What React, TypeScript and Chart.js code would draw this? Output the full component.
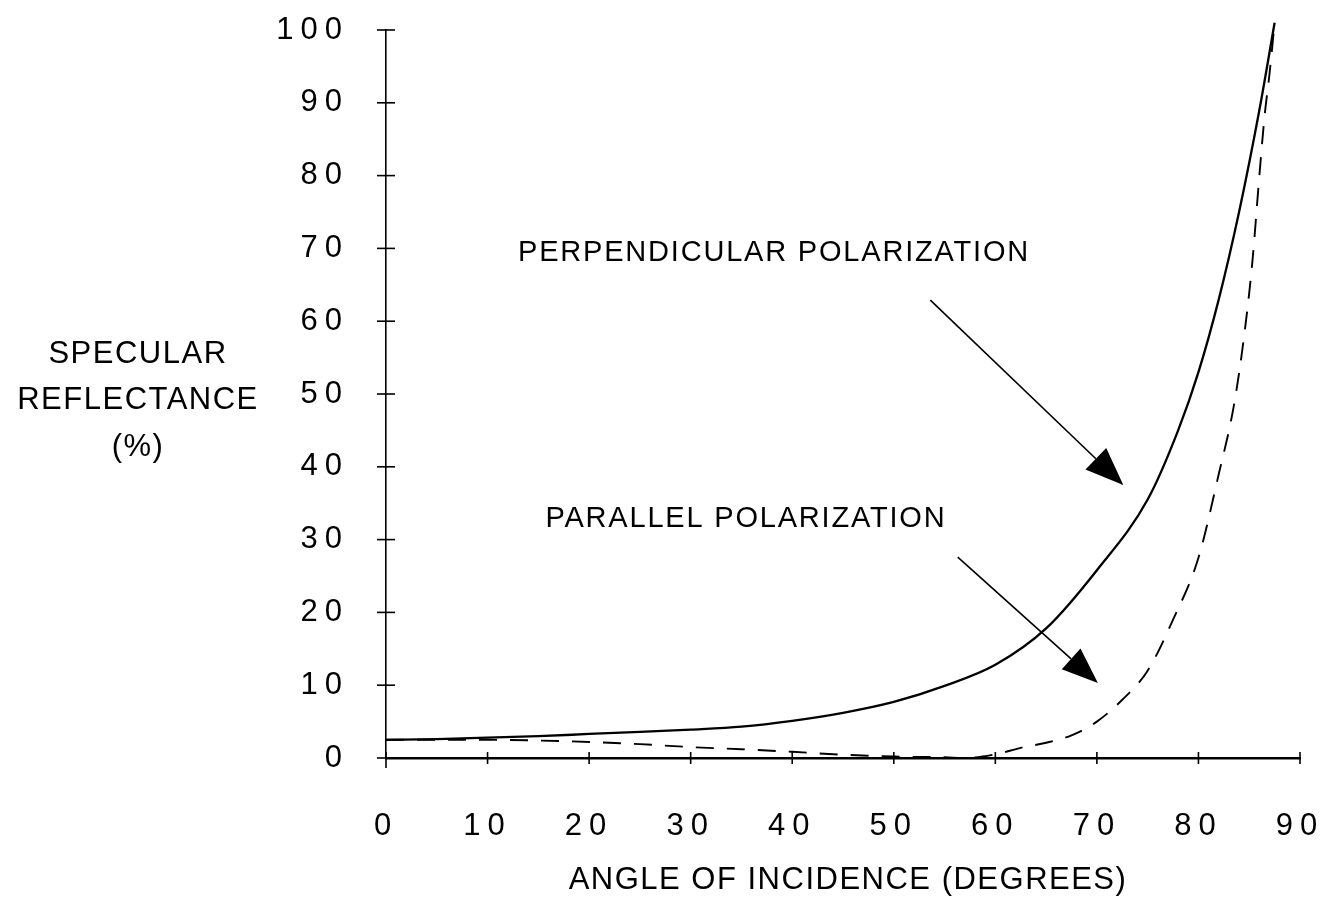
import React, { useEffect, useRef } from "react";
import { Chart, registerables } from "chart.js";

Chart.register(...registerables);

// Angle of incidence (degrees) and specular reflectance (%)
const perpAngles = [0, 5, 10, 15, 20, 25, 30, 35, 40, 45, 50, 55, 60, 65, 70, 75, 78, 80, 82, 84, 86, 87.5];
const perpValues = [2.5, 2.6, 2.8, 3.0, 3.3, 3.6, 3.9, 4.3, 5.1, 6.2, 7.7, 9.9, 12.8, 17.8, 25.8, 35.5, 45, 53, 63, 75, 89, 101];

const paraAngles = [0, 5, 10, 15, 20, 25, 30, 35, 40, 45, 50, 55, 57, 60, 62.5, 65, 67.5, 70, 72.5, 75, 77.5, 80, 82, 83.5, 84.5, 85.3, 86, 86.5, 87, 87.5];
const paraValues = [2.5, 2.5, 2.5, 2.4, 2.2, 1.9, 1.5, 1.2, 0.85, 0.45, 0.2, 0.1, 0, 0.5, 1.4, 2.1, 3.1, 5.0, 8.0, 12, 19, 27.5, 39, 48.5, 58, 68, 80, 88, 94, 101];

const xTicks = [0, 10, 20, 30, 40, 50, 60, 70, 80, 90];
const yTicks = [0, 10, 20, 30, 40, 50, 60, 70, 80, 90, 100];

const yTitleLines = ["SPECULAR", "REFLECTANCE", "(%)"];
const xTitle = "ANGLE OF INCIDENCE (DEGREES)";

// annotations: label text, label anchor (data coords), arrow from/to (data coords)
const perpLabel = "PERPENDICULAR POLARIZATION";
const perpLabelAt = [13.0, 69.4];
const perpArrow = [53.6, 62.9, 72.6, 37.5];
const paraLabel = "PARALLEL POLARIZATION";
const paraLabelAt = [15.7, 32.8];
const paraArrow = [56.3, 27.6, 70.1, 10.3];

const FONT = "'Liberation Sans', Arial, sans-serif";

const zeroPadding = (s: any) => {
  s.paddingTop = 0;
  s.paddingBottom = 0;
  s.paddingLeft = 0;
  s.paddingRight = 0;
};

export default function App() {
  const ref = useRef<HTMLCanvasElement | null>(null);

  useEffect(() => {
    const canvas = ref.current;
    if (!canvas) return;

    const decor = {
      id: "decor",
      beforeDraw(chart: any) {
        (chart.ctx as any).letterSpacing = "7px";
      },
      afterDraw(chart: any) {
        const ctx = chart.ctx as CanvasRenderingContext2D & { letterSpacing: string };
        const xs = chart.scales.x;
        const ys = chart.scales.y;
        const area = chart.chartArea;
        ctx.save();
        ctx.letterSpacing = "0px";
        ctx.strokeStyle = "#000";
        ctx.fillStyle = "#000";

        // y tick marks crossing axis
        ctx.lineWidth = 1.6;
        yTicks.forEach((v) => {
          const y = ys.getPixelForValue(v);
          ctx.beginPath();
          ctx.moveTo(area.left - 9, y);
          ctx.lineTo(area.left + 9, y);
          ctx.stroke();
        });
        // x tick marks crossing axis
        xTicks.forEach((v) => {
          const x = xs.getPixelForValue(v);
          ctx.beginPath();
          ctx.moveTo(x, area.bottom - 6);
          ctx.lineTo(x, area.bottom + (v === 0 ? 10 : 6));
          ctx.stroke();
        });

        // titles
        ctx.letterSpacing = "1.5px";
        ctx.font = `31px ${FONT}`;
        ctx.textAlign = "center";
        ctx.textBaseline = "middle";
        const cx = area.left - 248;
        yTitleLines.forEach((t, i) => {
          ctx.fillText(t, cx, ys.getPixelForValue(55.5) + i * 46.5);
        });
        ctx.fillText(xTitle, (area.left + area.right) / 2 + 5, area.bottom + 122);

        // annotations
        ctx.letterSpacing = "1.8px";
        ctx.font = `29px ${FONT}`;
        ctx.textAlign = "left";
        ctx.fillText(perpLabel, xs.getPixelForValue(perpLabelAt[0]), ys.getPixelForValue(perpLabelAt[1]));
        ctx.fillText(paraLabel, xs.getPixelForValue(paraLabelAt[0]), ys.getPixelForValue(paraLabelAt[1]));

        const arrow = (a: number[], head: number, half: number) => {
          const x1 = xs.getPixelForValue(a[0]);
          const y1 = ys.getPixelForValue(a[1]);
          const x2 = xs.getPixelForValue(a[2]);
          const y2 = ys.getPixelForValue(a[3]);
          const ang = Math.atan2(y2 - y1, x2 - x1);
          const bx = x2 - head * Math.cos(ang);
          const by = y2 - head * Math.sin(ang);
          ctx.lineWidth = 1.6;
          ctx.beginPath();
          ctx.moveTo(x1, y1);
          ctx.lineTo(bx, by);
          ctx.stroke();
          ctx.beginPath();
          ctx.moveTo(x2, y2);
          ctx.lineTo(bx + half * Math.sin(ang), by - half * Math.cos(ang));
          ctx.lineTo(bx - half * Math.sin(ang), by + half * Math.cos(ang));
          ctx.closePath();
          ctx.fill();
        };
        arrow(perpArrow, 38, 15);
        arrow(paraArrow, 36, 14);
        ctx.restore();
      },
    };

    const chart = new Chart(canvas, {
      type: "line",
      data: {
        datasets: [
          {
            label: "Perpendicular polarization",
            data: perpAngles.map((a, i) => ({ x: a, y: perpValues[i] })),
            borderColor: "#000",
            borderWidth: 2.3,
            pointRadius: 0,
            cubicInterpolationMode: "monotone",
            fill: false,
            clip: false as any,
          },
          {
            label: "Parallel polarization",
            data: paraAngles.map((a, i) => ({ x: a, y: paraValues[i] })),
            borderColor: "#000",
            borderWidth: 1.9,
            borderDash: [18, 13],
            pointRadius: 0,
            cubicInterpolationMode: "monotone",
            fill: false,
            clip: false as any,
          },
        ],
      },
      options: {
        animation: false,
        responsive: false,
        layout: { padding: { left: 0, right: 39, top: 30, bottom: 0 } },
        plugins: { legend: { display: false }, tooltip: { enabled: false } },
        scales: {
          x: {
            type: "linear",
            min: 0,
            max: 90,
            afterFit: (s: any) => {
              s.height = 155;
              zeroPadding(s);
            },
            afterBuildTicks: (s: any) => {
              s.ticks = xTicks.map((v) => ({ value: v }));
            },
            ticks: {
              color: "#000",
              font: { family: FONT, size: 31 },
              padding: 50,
              maxRotation: 0,
              autoSkip: false,
              callback: (v: any) => String(v),
            },
            grid: { display: false, drawTicks: false },
            border: { display: true, color: "#000", width: 2.5 },
          },
          y: {
            type: "linear",
            min: 0,
            max: 100,
            afterFit: (s: any) => {
              s.width = 386;
              zeroPadding(s);
            },
            afterBuildTicks: (s: any) => {
              s.ticks = yTicks.map((v) => ({ value: v }));
            },
            ticks: {
              color: "#000",
              font: { family: FONT, size: 31 },
              padding: 37,
              autoSkip: false,
              callback: (v: any) => String(v),
            },
            grid: { display: false, drawTicks: false },
            border: { display: true, color: "#000", width: 1.6 },
          },
        },
      },
      plugins: [decor],
    });

    return () => chart.destroy();
  }, []);

  return (
    <div style={{ position: "absolute", left: 0, top: 0, width: 1339, height: 913, background: "#fff" }}>
      <canvas ref={ref} width={1339} height={913} style={{ display: "block" }} />
    </div>
  );
}
